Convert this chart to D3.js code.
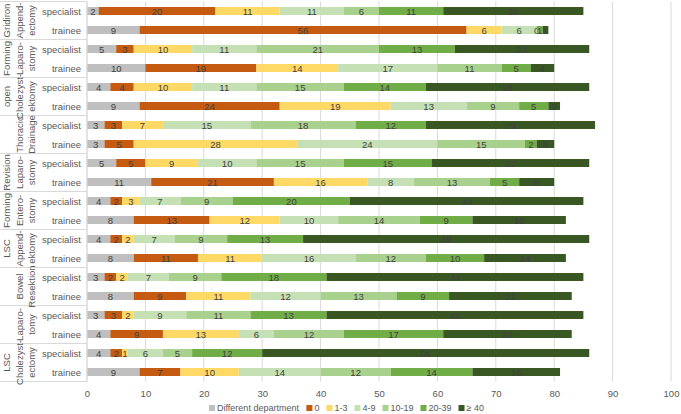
<!DOCTYPE html>
<html lang="en">
<head>
  <meta charset="UTF-8" />
  <title>Procedures by experience</title>
  <style>
    body { margin: 0; padding: 0; background: #fff; font-family: "Liberation Sans", Arial, sans-serif; }
    svg { display: block; }
  </style>
</head>
<body>
  <svg id="chart"></svg>
  <script src="https://d3js.org/d3.v7.min.js"></script>
  <script>
    const width = 681, height = 414;

    // procedure groups (rotated labels, one entry per line)
    const groups = [
      ["Gridiron", "Append-", "ectomy"],
      ["Forming", "Laparo-", "stomy"],
      ["open", "Cholezyst-", "ektomy"],
      ["Thoracic", "Drainage"],
      ["Revision", "Laparo-", "stomy"],
      ["Forming", "Entero-", "stomy"],
      ["LSC", "Append-", "ektomy"],
      ["Bowel", "Resektion"],
      ["Laparo-", "tomy"],
      ["LSC", "Cholezyst-", "ectomy"]
    ];
    const roles = ["specialist", "trainee"];

    const seriesNames = ["Different department", "0", "1-3", "4-9", "10-19", "20-39", "≥ 40"];
    const colors = ["#bfbfbf", "#c55a11", "#ffd966", "#c5e0b4", "#a9d18e", "#70ad47", "#385723"];

    // one value per row, top to bottom (specialist, trainee, ...)
    const diffDept = [2, 9, 5, 10, 4, 9, 3, 3, 5, 11, 4, 8, 4, 8, 3, 8, 3, 4, 4, 9];
    const zero     = [20, 56, 3, 19, 4, 24, 3, 5, 5, 21, 2, 13, 2, 11, 2, 9, 3, 9, 2, 7];
    const r1to3    = [11, 6, 10, 14, 10, 19, 7, 28, 9, 16, 3, 12, 2, 11, 2, 11, 2, 13, 1, 10];
    const r4to9    = [11, 6, 11, 17, 11, 13, 15, 24, 10, 8, 7, 10, 7, 16, 7, 12, 9, 6, 6, 14];
    const r10to19  = [6, 0, 21, 11, 15, 9, 18, 15, 15, 13, 9, 14, 9, 12, 9, 13, 11, 12, 5, 12];
    const r20to39  = [11, 1, 13, 5, 14, 5, 12, 2, 15, 5, 20, 9, 13, 10, 18, 9, 13, 17, 12, 14];
    const ge40     = [24, 1, 23, 4, 28, 2, 29, 3, 27, 6, 40, 16, 49, 14, 44, 21, 44, 22, 56, 15];

    const seriesValues = [diffDept, zero, r1to3, r4to9, r10to19, r20to39, ge40];
    const xTicks = [0, 10, 20, 30, 40, 50, 60, 70, 80, 90, 100];

    const rows = [];
    groups.forEach((g, gi) => roles.forEach((r, ri) => {
      const idx = gi * 2 + ri;
      const row = { id: idx, group: gi, role: r };
      seriesNames.forEach((s, si) => row[s] = seriesValues[si][idx]);
      rows.push(row);
    }));

    const margin = { top: 1.5, right: 10, bottom: 32.5, left: 87 };
    const plotW = 671 - margin.left;
    const plotH = height - margin.top - margin.bottom;

    const svg = d3.select("#chart")
      .attr("width", width)
      .attr("height", height)
      .attr("viewBox", `0 0 ${width} ${height}`);

    const g = svg.append("g").attr("transform", `translate(${margin.left},${margin.top})`);

    const x = d3.scaleLinear().domain([0, 100]).range([0, plotW]);
    const y = d3.scaleBand().domain(rows.map(d => d.id)).range([0, plotH]).paddingInner(0.58).paddingOuter(0.29);
    const color = d3.scaleOrdinal().domain(seriesNames).range(colors);

    // gridlines
    g.append("g")
      .selectAll("line")
      .data(xTicks)
      .join("line")
      .attr("x1", d => x(d)).attr("x2", d => x(d))
      .attr("y1", 0).attr("y2", plotH)
      .attr("stroke", "#d9d9d9")
      .attr("stroke-width", 1);

    // x axis labels
    const xAxis = g.append("g")
      .attr("transform", `translate(0,${plotH})`)
      .call(d3.axisBottom(x).tickValues(xTicks).tickSize(0).tickPadding(9));
    xAxis.select(".domain").remove();
    xAxis.selectAll("text")
      .attr("font-family", "Liberation Sans, Arial, sans-serif")
      .attr("font-size", "9.5px")
      .attr("fill", "#595959");

    // stacked bars
    const stack = d3.stack().keys(seriesNames);
    const layers = stack(rows);

    const layer = g.append("g")
      .selectAll("g")
      .data(layers)
      .join("g")
      .attr("fill", d => color(d.key));

    layer.selectAll("rect")
      .data(d => d)
      .join("rect")
      .attr("x", d => x(d[0]))
      .attr("y", d => y(d.data.id))
      .attr("width", d => x(d[1]) - x(d[0]))
      .attr("height", y.bandwidth());

    layer.selectAll("text")
      .data(d => d)
      .join("text")
      .attr("x", d => (x(d[0]) + x(d[1])) / 2)
      .attr("y", d => y(d.data.id) + y.bandwidth() / 2)
      .attr("text-anchor", "middle")
      .attr("dominant-baseline", "central")
      .attr("font-size", "9.5px")
      .attr("fill", "#404040")
      .text(d => d[1] - d[0]);

    // role labels
    g.append("g")
      .selectAll("text")
      .data(rows)
      .join("text")
      .attr("x", -6)
      .attr("y", d => y(d.id) + y.bandwidth() / 2)
      .attr("text-anchor", "end")
      .attr("dominant-baseline", "central")
      .attr("font-size", "9.5px")
      .attr("fill", "#595959")
      .text(d => d.role);

    // group separators and axis line
    const step = y.step();
    const sepY = d3.range(groups.length + 1).map(i => i === 0 ? 0 : (i === groups.length ? plotH : y(i * 2) - (step - y.bandwidth()) / 2));
    g.append("g")
      .selectAll("line")
      .data(sepY)
      .join("line")
      .attr("x1", -margin.left).attr("x2", 0)
      .attr("y1", d => d).attr("y2", d => d)
      .attr("stroke", "#d9d9d9");
    g.append("line")
      .attr("x1", 0).attr("x2", 0)
      .attr("y1", 0).attr("y2", plotH)
      .attr("stroke", "#d9d9d9");

    // rotated group labels
    const colX = [6, 19, 31];
    groups.forEach((lines, gi) => {
      const cy = (sepY[gi] + sepY[gi + 1]) / 2;
      const offset = colX.length - lines.length;
      lines.forEach((t, li) => {
        const cx = colX[li + offset] - margin.left;
        g.append("text")
          .attr("transform", `translate(${cx},${cy}) rotate(-90)`)
          .attr("text-anchor", "middle")
          .attr("dominant-baseline", "central")
          .attr("font-size", "9.5px")
          .attr("fill", "#595959")
          .text(t);
      });
    });

    // legend
    const legend = svg.append("g").attr("transform", `translate(0,${height - 6})`);
    const items = legend.selectAll("g")
      .data(seriesNames)
      .join("g");
    items.append("rect")
      .attr("width", 6).attr("height", 6)
      .attr("y", -3)
      .attr("fill", d => color(d));
    items.append("text")
      .attr("x", 8)
      .attr("dominant-baseline", "central")
      .attr("font-size", "9px")
      .attr("fill", "#595959")
      .text(d => d);
    let lx = 0;
    const pos = [];
    items.each(function () {
      pos.push(lx);
      lx += this.getBBox().width + 7;
    });
    lx -= 7;
    const startX = 346.5 - lx / 2;
    items.attr("transform", (d, i) => `translate(${startX + pos[i]},0)`);
  </script>
</body>
</html>
